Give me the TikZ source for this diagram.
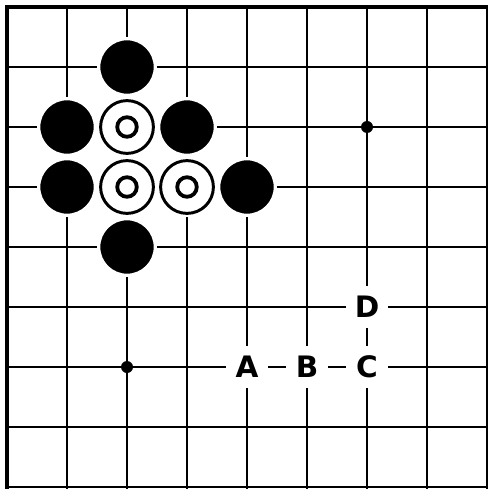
\documentclass[tikz,border=0pt]{standalone}
\usepackage{fontspec}
\setsansfont{DejaVu Sans}
\usetikzlibrary{positioning}

\begin{document}
\begin{tikzpicture}[x=1cm, y=-1cm,
    gridline/.style={line width=1pt, black},
    edgeline/.style={line width=2pt, black, line cap=rect},
    blackstone/.style={circle, fill=black, draw=white, line width=0.055cm, minimum size=0.945cm, inner sep=0pt},
    whitestone/.style={circle, fill=white, minimum size=1cm, inner sep=0pt,
        path picture={
            \draw[line width=1.4pt] (path picture bounding box.center) circle (0.44cm);
            \draw[line width=1.8pt] (path picture bounding box.center) circle (0.163cm);
        }},
    hoshi/.style={circle, fill=black, minimum size=0.2cm, inner sep=0pt},
    marker/.style={fill=white, minimum size=0.7cm, inner sep=0pt, font=\sffamily\bfseries\fontsize{14}{14}\selectfont}]

\useasboundingbox (-0.1167,-0.1167) rectangle (8,8.0333);

% ==================== BOARD ====================
\foreach \k in {1,...,8} {
    \draw[gridline] (\k,0) -- (\k,8.2);
    \draw[gridline] (0,\k) -- (8.2,\k);
}
% top and left edge
\draw[edgeline] (0,8.2) -- (0,0) -- (8.2,0);

% star points
\node[hoshi] (hoshiA) at (6,2) {};
\node[hoshi] (hoshiB) at (2,6) {};

% ==================== STONES ====================
\node[blackstone] (b1) at (2,1) {};
\node[blackstone] (b2) at (1,2) {};
\node[blackstone] (b3) at (3,2) {};
\node[blackstone] (b4) at (1,3) {};
\node[blackstone] (b5) at (4,3) {};
\node[blackstone] (b6) at (2,4) {};

\node[whitestone] (w1) at (2,2) {};
\node[whitestone] (w2) at (2,3) {};
\node[whitestone] (w3) at (3,3) {};

% ==================== LABELS ====================
\node[marker] (labD) at (6,5) {D};
\node[marker] (labA) at (4,6) {A};
\node[marker] (labB) at (5,6) {B};
\node[marker] (labC) at (6,6) {C};

\end{tikzpicture}
\end{document}
